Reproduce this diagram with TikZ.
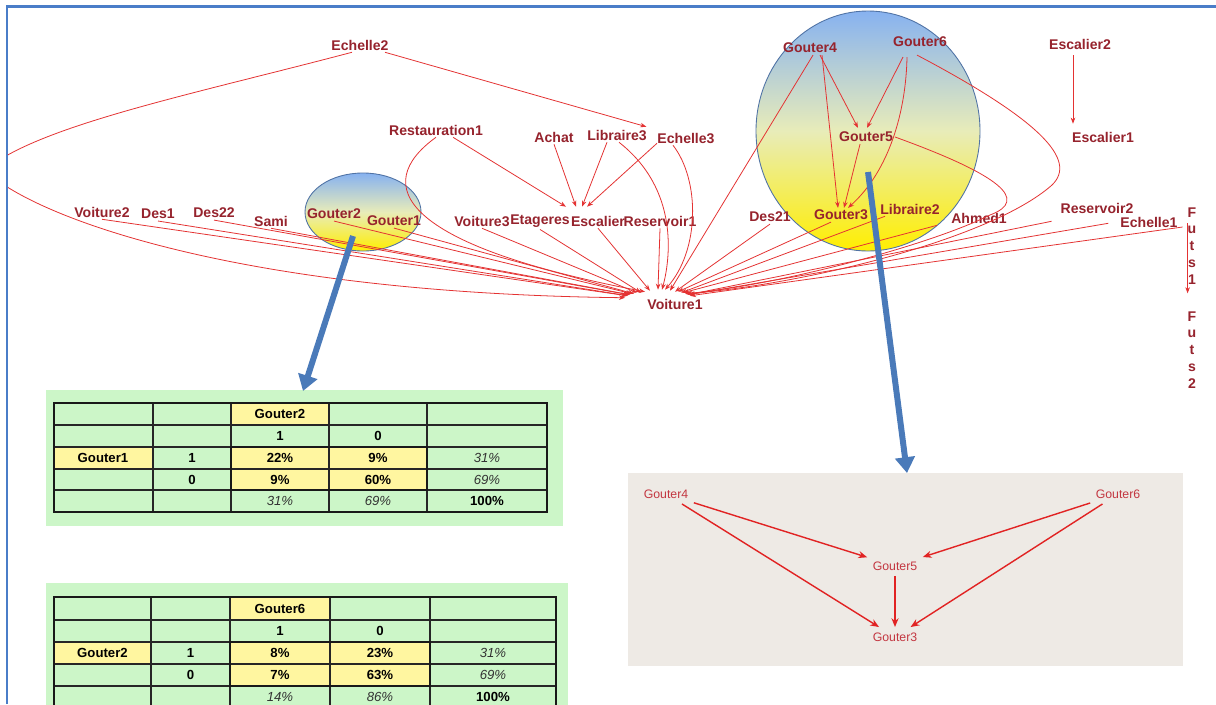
\documentclass[tikz,border=0pt]{standalone}
\usepackage{fontspec}
\setmainfont{Liberation Sans}
\usetikzlibrary{arrows.meta,calc}
\definecolor{lab}{RGB}{150,35,45}
\definecolor{edgered}{RGB}{228,50,50}
\definecolor{framec}{RGB}{74,125,200}
\definecolor{blueA}{RGB}{74,122,185}
\definecolor{tgreen}{RGB}{204,246,200}
\definecolor{tyellow}{RGB}{255,246,160}
\definecolor{panelbg}{RGB}{238,234,229}
\definecolor{smallred}{RGB}{195,55,65}
\definecolor{arrowred}{RGB}{225,35,35}
\definecolor{shblue}{RGB}{135,178,240}
\definecolor{shmid}{RGB}{232,236,185}
\definecolor{shyel}{RGB}{255,238,0}
\definecolor{ellborder}{RGB}{80,115,165}
\tikzset{
  lbl/.style={font=\bfseries\fontsize{8}{9.6}\selectfont, text=lab, inner sep=1pt},
  redge/.style={draw=edgered, line width=0.45pt, -{Stealth[length=3.5pt,width=2.6pt]}},
  bluearr/.style={draw=blueA, line width=3.4pt, -{Triangle[width=11pt,length=9pt]}},
  tb/.style={font=\bfseries\fontsize{7.5}{9}\selectfont, text=black},
  ti/.style={font=\itshape\fontsize{7.5}{9}\selectfont, text=black!80},
  grid/.style={draw=black!85, line width=0.7pt},
  thick border/.style={draw=black!90, line width=1.3pt},
  small/.style={font=\fontsize{7}{8}\selectfont, text=smallred, inner sep=3pt},
  barrow/.style={draw=arrowred, line width=0.8pt, -{Stealth[length=5pt,width=4pt]}},
}
\begin{document}
\begin{tikzpicture}[x=0.02cm,y=-0.02cm]
\useasboundingbox (0,0) rectangle (1216,704);
\clip (0,0) rectangle (1216,704);
\fill[white] (0,0) rectangle (1216,704);

% frame
\draw[framec, line width=1.2pt] (7,704) -- (7,6.5) -- (1216,6.5);

% ---------- table 1 ----------
\fill[tgreen] (46,390) rectangle (563,526);
\fill[tyellow] (231,403) rectangle (329,425);
\fill[tyellow] (54,447) rectangle (153,469);
\fill[tyellow] (231,447) rectangle (427,490);
\foreach \x in {153,231,329,427} \draw[grid] (\x,403) -- (\x,512);
\foreach \y in {425,447,469,490} \draw[grid] (54,\y) -- (547,\y);
\draw[thick border] (54,403) rectangle (547,512);
\draw[thick border] (231,447) rectangle (427,490);
\node[tb] (ta13) at (280,414) {Gouter2};
\node[tb] (ta23) at (280,436) {1};
\node[tb] (ta24) at (378,436) {0};
\node[tb] (ta31) at (103,458) {Gouter1};
\node[tb] (ta32) at (192,458) {1};
\node[tb] (ta33) at (280,458) {22\%};
\node[tb] (ta34) at (378,458) {9\%};
\node[ti] (ta35) at (487,458) {31\%};
\node[tb] (ta42) at (192,479.5) {0};
\node[tb] (ta43) at (280,479.5) {9\%};
\node[tb] (ta44) at (378,479.5) {60\%};
\node[ti] (ta45) at (487,479.5) {69\%};
\node[ti] (ta53) at (280,501) {31\%};
\node[ti] (ta54) at (378,501) {69\%};
\node[tb] (ta55) at (487,501) {100\%};

% ---------- table 2 ----------
\fill[tgreen] (46,583) rectangle (568,720);
\fill[tyellow] (230,597) rectangle (330,620);
\fill[tyellow] (54,642) rectangle (151,664);
\fill[tyellow] (230,642) rectangle (430,686);
\foreach \x in {151,230,330,430} \draw[grid] (\x,597) -- (\x,708);
\foreach \y in {620,642,664,686} \draw[grid] (54,\y) -- (556,\y);
\draw[thick border] (54,597) rectangle (556,708);
\draw[thick border] (230,642) rectangle (430,686);
\node[tb] (tb13) at (280,608.5) {Gouter6};
\node[tb] (tb23) at (280,631) {1};
\node[tb] (tb24) at (380,631) {0};
\node[tb] (tb31) at (102.5,653) {Gouter2};
\node[tb] (tb32) at (190.5,653) {1};
\node[tb] (tb33) at (280,653) {8\%};
\node[tb] (tb34) at (380,653) {23\%};
\node[ti] (tb35) at (493,653) {31\%};
\node[tb] (tb42) at (190.5,675) {0};
\node[tb] (tb43) at (280,675) {7\%};
\node[tb] (tb44) at (380,675) {63\%};
\node[ti] (tb45) at (493,675) {69\%};
\node[ti] (tb53) at (280,697) {14\%};
\node[ti] (tb54) at (380,697) {86\%};
\node[tb] (tb55) at (493,697) {100\%};

% ---------- bottom-right panel ----------
\fill[panelbg] (628,473) rectangle (1183,666);
\node[small] (gA4) at (666,494) {Gouter4};
\node[small] (gA6) at (1118,494) {Gouter6};
\node[small] (gA5) at (895,566) {Gouter5};
\node[small] (gA3) at (895,637) {Gouter3};
\draw[barrow] (gA4) -- (gA5);
\draw[barrow] (gA4) -- (gA3);
\draw[barrow] (gA6) -- (gA5);
\draw[barrow] (gA6) -- (gA3);
\draw[barrow] (gA5) -- (gA3);

% ---------- top graph ----------
\begin{scope}
\clip (8,8) rectangle (1216,704);
% highlight shapes
\shade[top color=shblue, bottom color=shyel, middle color=shmid] (363,212) ellipse [x radius=58, y radius=39];
\draw[ellborder, line width=0.5pt] (363,212) ellipse [x radius=58, y radius=39];
\shade[top color=shblue, bottom color=shyel, middle color=shmid] (868,131) ellipse [x radius=112, y radius=120];
\draw[ellborder, line width=0.5pt] (868,131) ellipse [x radius=112, y radius=120];

% nodes
\node[lbl] (Echelle2) at (360,45) {Echelle2};
\node[lbl] (Restauration1) at (436,130) {Restauration1};
\node[lbl] (Achat) at (554,137) {Achat};
\node[lbl] (Libraire3) at (617,135) {Libraire3};
\node[lbl] (Echelle3) at (686,138) {Echelle3};
\node[lbl] (Voiture2) at (102,212) {Voiture2};
\node[lbl] (Des1) at (158,214) {Des1};
\node[lbl] (Des22) at (214,213) {Des22};
\node[lbl] (Sami) at (271,221) {Sami};
\node[lbl] (Gouter2) at (334,214) {Gouter2};
\node[lbl] (Gouter1) at (394,221) {Gouter1};
\node[lbl] (Voiture3) at (482,221) {Voiture3};
\node[lbl] (Etageres) at (540,221) {Etageres};
\node[lbl] (Escalier) at (598,221) {Escalier};
\node[lbl] (Reservoir1) at (660,221) {Reservoir1};
\node[lbl] (Voiture1) at (675,304) {Voiture1};
\node[lbl] (Des21) at (770,217) {Des21};
\node[lbl] (Gouter3) at (841,215) {Gouter3};
\node[lbl] (Libraire2) at (910,209) {Libraire2};
\node[lbl] (Ahmed1) at (979,218) {Ahmed1};
\node[lbl] (Reservoir2) at (1097,208) {Reservoir2};
\node[lbl] (Echelle1) at (1149,222) {Echelle1};
\node[lbl] (Gouter4) at (810,48) {Gouter4};
\node[lbl] (Gouter6) at (920,42) {Gouter6};
\node[lbl] (Gouter5) at (866,137) {Gouter5};
\node[lbl] (Escalier2) at (1080,44) {Escalier2};
\node[lbl] (Escalier1) at (1103,137) {Escalier1};
\node[lbl, align=center] (Futs1) at (1192,246) {F\\u\\t\\s\\1};
\node[lbl, align=center] (Futs2) at (1192,350) {F\\u\\t\\s\\2};

% left fan into Voiture1
\draw[redge] (Voiture2.south) -- ([shift={(-48,-1)}]Voiture1.north);
\draw[redge] (Des1.south) -- ([shift={(-47,-1)}]Voiture1.north);
\draw[redge] (Des22.south) -- ([shift={(-46,-2)}]Voiture1.north);
\draw[redge] (Sami.south) -- ([shift={(-45,-2)}]Voiture1.north);
\draw[redge] (Gouter2.south) -- ([shift={(-43,-3)}]Voiture1.north);
\draw[redge] (Gouter1.south) -- ([shift={(-41,-3)}]Voiture1.north);
\draw[redge] (Voiture3.south) -- ([shift={(-38,-4)}]Voiture1.north);
\draw[redge] (Etageres.south) -- ([shift={(-34,-4)}]Voiture1.north);
\draw[redge] (Escalier.south) -- ([shift={(-25,-6)}]Voiture1.north);
\draw[redge] (Reservoir1.south) -- ([shift={(-17,-7)}]Voiture1.north);
\draw[redge] ([shift={(-8,0)}]Echelle2.south) .. controls (190,95) and (40,125) .. (-15,170)
   .. controls (30,215) and (230,293) .. ([shift={(-50,1)}]Voiture1.north);
\draw[redge] (Restauration1.south) .. controls (370,185) and (400,245) .. ([shift={(-30,-5)}]Voiture1.north);
\draw[redge] ([shift={(2,0)}]Libraire3.south) .. controls (680,190) and (670,260) .. ([shift={(-13,-7)}]Voiture1.north);
\draw[redge] ([shift={(-13,0)}]Echelle3.south) .. controls (700,180) and (700,250) .. ([shift={(-10,-7)}]Voiture1.north);

% into Escalier / Echelle3
\draw[redge] ([shift={(25,0)}]Echelle2.south) -- ([shift={(-9,-4)}]Echelle3.north west);
\draw[redge] ([shift={(17,0)}]Restauration1.south) -- ([shift={(-32,-7)}]Escalier.north);
\draw[redge] (Achat.south) -- ([shift={(-22,-7)}]Escalier.north);
\draw[redge] ([shift={(-10,0)}]Libraire3.south) -- ([shift={(-16,-7)}]Escalier.north);
\draw[redge] ([shift={(-29,-2)}]Echelle3.south) -- ([shift={(-11,-7)}]Escalier.north);

% right fan into Voiture1
\draw[redge] ([shift={(3,0)}]Gouter4.south) -- ([shift={(-5,-6)}]Voiture1.north);
\draw[redge] (Des21.south) -- ([shift={(0,-5)}]Voiture1.north);
\draw[redge] ([shift={(-10,0)}]Gouter3.south) -- ([shift={(3,-5)}]Voiture1.north);
\draw[redge] ([shift={(-25,0)}]Libraire2.south) -- ([shift={(6,-4)}]Voiture1.north);
\draw[redge] ([shift={(-12,0)}]Ahmed1.south west) -- ([shift={(8,-4)}]Voiture1.north);
\draw[redge] (Gouter5.east) .. controls (1000,175) and (1030,200) .. (990,215)
   .. controls (930,245) and (780,285) .. ([shift={(10,-3)}]Voiture1.north);
\draw[redge] ([shift={(-3,6)}]Gouter6.south) .. controls (1040,120) and (1078,160) .. (1052,185)
   .. controls (990,240) and (800,285) .. ([shift={(11,-3)}]Voiture1.north);
\draw[redge] ([shift={(-7,6)}]Reservoir2.south west) -- ([shift={(13,-2)}]Voiture1.north);
\draw[redge] ([shift={(-10,-6)}]Echelle1.south west) -- ([shift={(14,-2)}]Voiture1.north);
\draw[redge] ([shift={(-3,-19)}]Futs1.west) -- ([shift={(15,-1)}]Voiture1.north);

% inside big circle
\draw[redge] ([shift={(10,0)}]Gouter4.south) -- ([shift={(-8,-2)}]Gouter5.north);
\draw[redge] ([shift={(12,0)}]Gouter4.south) -- ([shift={(-3,0)}]Gouter3.north);
\draw[redge] ([shift={(-17,8)}]Gouter6.south) -- ([shift={(1,-2)}]Gouter5.north);
\draw[redge] ([shift={(-13,8)}]Gouter6.south) .. controls (906,110) and (890,170) .. ([shift={(7,0)}]Gouter3.north);
\draw[redge] ([shift={(-6,0)}]Gouter5.south) -- ([shift={(3,0)}]Gouter3.north);

% others
\draw[redge] ([shift={(-7,4)}]Escalier2.south) -- ([shift={(-30,-6)}]Escalier1.north);
\draw[redge] ([shift={(2,18)}]Futs1.north west) -- ([shift={(2,-16)}]Futs2.north west);
\end{scope}

% blue arrows
\coordinate (b1s) at (353,236);
\coordinate (b1e) at (303,391);
\coordinate (b2s) at (868,172);
\coordinate (b2e) at (907,473);
\draw[bluearr] (b1s) -- (b1e);
\draw[bluearr] (b2s) -- (b2e);
\end{tikzpicture}
\end{document}
